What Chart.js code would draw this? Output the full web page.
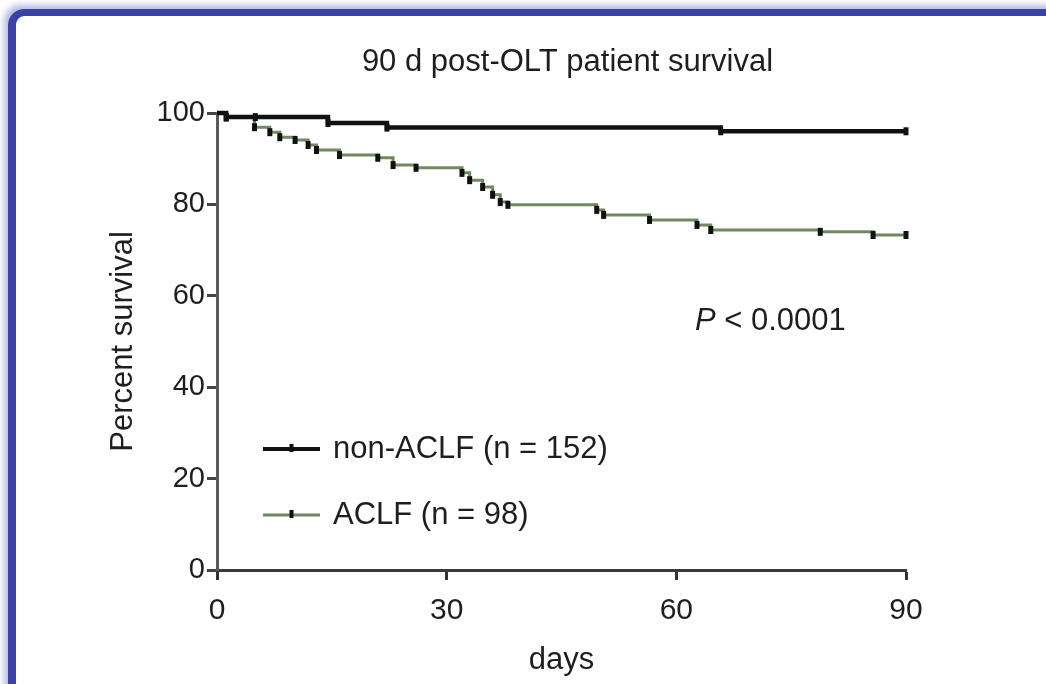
<!DOCTYPE html>
<html>
<head>
<meta charset="utf-8">
<script src="https://cdn.jsdelivr.net/npm/chart.js@4"></script>
<style>
  html, body { margin:0; padding:0; background:#fff; width:1046px; height:684px; overflow:hidden; }
  #frame { position:absolute; left:8px; top:9px; width:1100px; height:760px;
           border-top:7px solid #3a43a5; border-left:8px solid #3a43a5;
           border-top-left-radius:16px; box-shadow:-4px -4px 6px rgba(90,100,200,0.45); }
  #c { position:absolute; left:0; top:0; }
</style>
</head>
<body>
<div id="frame"></div>
<canvas id="c" width="1046" height="684"></canvas>
<script>
// ---- data ----
const chartTitle = "90 d post-OLT patient survival";
const xTitle = "days";
const yTitle = "Percent survival";
const seriesLabels = ["non-ACLF (n = 152)", "ACLF (n = 98)"];
const pValueText = "< 0.0001";

const nonAclfDays     = [0, 1.2, 5.0, 14.5, 22.2, 65.8, 90];
const nonAclfSurvival = [100, 99.1, 99.1, 97.8, 96.8, 96.0, 96.0];

const aclfDays     = [0, 1.2, 4.9, 6.9, 8.2, 10.2, 11.9, 13.0, 16.0, 21.0, 23.0, 26.0, 32.0, 33.0, 34.7, 36.0, 37.0, 38.0, 49.6, 50.5, 56.5, 62.7, 64.5, 78.8, 85.7, 90];
const aclfSurvival = [100, 99.0, 96.9, 95.8, 94.7, 94.1, 93.0, 91.9, 90.8, 90.2, 88.6, 88.0, 86.9, 85.3, 83.8, 82.1, 80.5, 79.9, 78.8, 77.7, 76.6, 75.5, 74.4, 74.0, 73.3, 73.3];

const xTicks = [0, 30, 60, 90];
const yTicks = [0, 20, 40, 60, 80, 100];

const toPoints = (xs, ys) => xs.map((x, i) => ({ x: x, y: ys[i] }));

const FONT = "'Liberation Sans', Arial, sans-serif";
const TXT = "#1e1e1e";
const GREEN = "#6f8a5f";

const textLayer = {
  id: 'textLayer',
  afterDraw(chart) {
    const ctx = chart.ctx;
    const a = chart.chartArea;
    ctx.save();
    // title
    ctx.fillStyle = TXT;
    ctx.font = "31px " + FONT;
    ctx.textAlign = 'center'; ctx.textBaseline = 'middle';
    ctx.fillText(chartTitle, (a.left + a.right) / 2 + 6, a.top - 51);
    // legend
    const rows = [
      { y: a.top + 336, color: '#111', lw: 4 },
      { y: a.top + 402, color: GREEN, lw: 3 }
    ];
    rows.forEach((r, i) => {
      const x0 = a.left + 46, x1 = a.left + 103;
      ctx.strokeStyle = r.color; ctx.lineWidth = r.lw;
      ctx.beginPath(); ctx.moveTo(x0, r.y); ctx.lineTo(x1, r.y); ctx.stroke();
      ctx.strokeStyle = '#111'; ctx.lineWidth = 4;
      ctx.beginPath(); ctx.moveTo((x0 + x1) / 2, r.y - 5); ctx.lineTo((x0 + x1) / 2, r.y + 3); ctx.stroke();
      ctx.fillStyle = TXT;
      ctx.font = "31px " + FONT;
      ctx.textBaseline = 'middle'; ctx.textAlign = 'left';
      ctx.fillText(chart.data.datasets[i].label, a.left + 116, r.y);
    });
    // P value
    const py = a.top + 208;
    ctx.font = "italic 31px " + FONT;
    ctx.fillText("P", a.left + 478, py);
    const w = ctx.measureText("P ").width;
    ctx.font = "31px " + FONT;
    ctx.fillText(pValueText, a.left + 478 + w, py);
    ctx.restore();
  }
};

new Chart(document.getElementById('c'), {
  type: 'line',
  data: {
    datasets: [
      {
        label: seriesLabels[0],
        data: toPoints(nonAclfDays, nonAclfSurvival),
        stepped: true,
        borderColor: '#111',
        borderWidth: 4.5,
        pointStyle: 'line',
        rotation: 90,
        pointRadius: c => c.dataIndex === 0 ? 0 : 4,
        pointBorderWidth: 5,
        pointBorderColor: '#111',
        pointBackgroundColor: '#111',
        clip: false
      },
      {
        label: seriesLabels[1],
        data: toPoints(aclfDays, aclfSurvival),
        stepped: true,
        borderColor: GREEN,
        borderWidth: 3,
        pointStyle: 'line',
        rotation: 90,
        pointRadius: c => c.dataIndex === 0 ? 0 : 4,
        pointBorderWidth: 5,
        pointBorderColor: '#111',
        pointBackgroundColor: '#111',
        clip: false
      }
    ]
  },
  options: {
    responsive: false,
    animation: false,
    layout: { padding: { left: 100, right: 140, top: 113, bottom: 0 } },
    plugins: {
      legend: { display: false },
      tooltip: { enabled: false },
      title: { display: false }
    },
    scales: {
      x: {
        type: 'linear',
        min: 0, max: 90,
        afterFit: s => { s.height = 114; },
        afterBuildTicks: s => { s.ticks = xTicks.map(v => ({ value: v })); },
        ticks: { color: TXT, font: { family: FONT, size: 30 }, padding: 13, maxRotation: 0 },
        grid: { drawOnChartArea: false, drawTicks: true, tickLength: 10, tickWidth: 3, tickColor: '#333' },
        border: { display: true, color: '#3a3a3a', width: 3 },
        title: { display: true, text: xTitle, color: TXT, font: { family: FONT, size: 31 }, padding: { top: 0, bottom: 5 } }
      },
      y: {
        type: 'linear',
        min: 0, max: 100,
        afterFit: s => { s.width = 117; },
        afterBuildTicks: s => { s.ticks = yTicks.map(v => ({ value: v })); },
        ticks: { color: TXT, font: { family: FONT, size: 29 }, padding: 2 },
        grid: { drawOnChartArea: false, drawTicks: true, tickLength: 10, tickWidth: 3, tickColor: '#444' },
        border: { display: true, color: '#5a5a5a', width: 3 },
        title: { display: true, text: yTitle, color: TXT, font: { family: FONT, size: 31 }, padding: { top: 5, bottom: 0 } }
      }
    }
  },
  plugins: [textLayer]
});
</script>
</body>
</html>
